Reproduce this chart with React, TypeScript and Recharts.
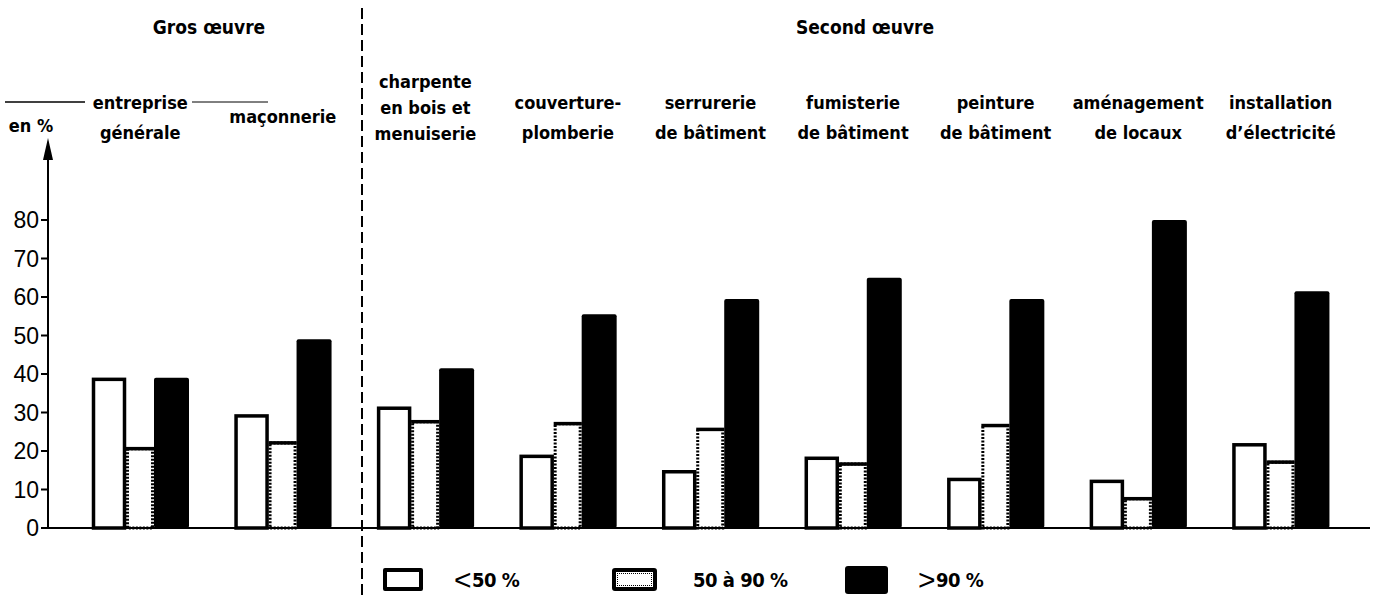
import { BarChart, Bar, XAxis, YAxis, Legend } from "recharts";

// Share of firms (%) per trade, by size class
const categories = [
  "entreprise\ngénérale",
  "maçonnerie",
  "charpente\nen bois et\nmenuiserie",
  "couverture-\nplomberie",
  "serrurerie\nde bâtiment",
  "fumisterie\nde bâtiment",
  "peinture\nde bâtiment",
  "aménagement\nde locaux",
  "installation\nd’électricité",
];
const below50 = [39, 29.5, 31.5, 19, 15, 18.5, 13, 12.5, 22];
const from50to90 = [21, 22.5, 28, 27.5, 26, 17, 27, 8, 17.5];
const above90 = [39, 49, 41.5, 55.5, 59.5, 65, 59.5, 80, 61.5];
const yTicks = [0, 10, 20, 30, 40, 50, 60, 70, 80];
const seriesNames = ["<50 %", "50 à 90 %", ">90 %"];

const data = categories.map((name, i) => ({
  name,
  below50: below50[i],
  from50to90: from50to90[i],
  above90: above90[i],
}));

const NARROW = "'Liberation Sans Narrow', 'DejaVu Sans Condensed', sans-serif";
const PLAIN = "'Liberation Sans', Arial, sans-serif";

// baselines for 1, 2 or 3 line labels (labels sit above the plot)
const LINE_BASES: Record<number, number[]> = {
  1: [123],
  2: [109, 139],
  3: [88, 114, 140],
};

function CategoryTick(props: any) {
  const { x, payload } = props;
  const lines = String(payload.value).split("\n");
  const bases = LINE_BASES[lines.length];
  return (
    <text textAnchor="middle" fontFamily={NARROW} fontWeight={700} fontSize={18} fill="#000">
      {lines.map((l, i) => (
        <tspan key={i} x={x} y={bases[i]}>
          {l}
        </tspan>
      ))}
    </text>
  );
}

const OutlineBar = (props: any) => {
  const { x, y, width, height } = props;
  if (!height) return null;
  return (
    <rect x={x + 1.5} y={y + 1.5} width={width - 3} height={height - 1.5} fill="#fff" stroke="#000" strokeWidth={3.5} />
  );
};

const DottedBar = (props: any) => {
  const { x, y, width, height } = props;
  if (!height) return null;
  return (
    <g>
      <rect x={x + 1.5} y={y + 1.5} width={width - 3} height={height - 1.5} fill="#fff" stroke="#000" strokeWidth={3} strokeDasharray="2 1.5" />
      <line x1={x} x2={x + width} y1={y + 1.5} y2={y + 1.5} stroke="#000" strokeWidth={3.5} />
    </g>
  );
};

const SolidBar = (props: any) => {
  const { x, y, width, height } = props;
  if (!height) return null;
  return <rect x={x} y={y} width={width} height={height} rx={2} fill="#000" />;
};

const swatchLeft = [383, 612, 845];
const textLeft = [454, 693, 918];

function LegendContent() {
  return (
    <div style={{ position: "relative", width: 1376, height: 33 }}>
      {seriesNames.map((name, i) => {
        const swatch =
          i === 0 ? (
            <div style={{ position: "absolute", left: swatchLeft[i], top: 6, width: 40, height: 23, boxSizing: "border-box", border: "4px solid #000", borderRadius: 2 }} />
          ) : i === 1 ? (
            <div style={{ position: "absolute", left: swatchLeft[i], top: 6, width: 45, height: 23, boxSizing: "border-box", border: "4px solid #000", borderRadius: 3, background: "#fff" }}>
              <div style={{ position: "absolute", inset: 1, border: "1.5px dotted #000" }} />
            </div>
          ) : (
            <div style={{ position: "absolute", left: swatchLeft[i], top: 4, width: 43, height: 28, background: "#000", borderRadius: 3 }} />
          );
        const sym = name.startsWith("<") || name.startsWith(">") ? name[0] : "";
        const rest = sym ? name.slice(1) : name;
        return (
          <div key={name}>
            {swatch}
            <div style={{ position: "absolute", left: textLeft[i], top: 3, whiteSpace: "nowrap", fontFamily: NARROW, fontWeight: 700, fontSize: 20, lineHeight: "30px", color: "#000", letterSpacing: -0.5 }}>
              {sym && (
                <span style={{ fontFamily: PLAIN, fontWeight: 300, fontSize: 30, lineHeight: "20px", marginRight: 1, position: "relative", top: 3 }}>
                  {sym}
                </span>
              )}
              {rest}
            </div>
          </div>
        );
      })}
    </div>
  );
}

export default function App() {
  return (
    <div style={{ position: "absolute", left: 0, top: 0, width: 1376, height: 599, background: "#fff" }}>
      <BarChart
        width={1376}
        height={599}
        data={data}
        barGap={0}
        margin={{ top: 143, right: 6, bottom: 41, left: 8 }}
      >
        <XAxis
          dataKey="name"
          height={30}
          interval={0}
          tick={<CategoryTick />}
          tickLine={false}
          axisLine={{ stroke: "#000", strokeWidth: 2 }}
          padding={{ left: 21, right: 18 }}
        />
        <YAxis
          width={40}
          domain={[0, 100]}
          ticks={yTicks}
          interval={0}
          tickSize={7}
          tickMargin={2}
          axisLine={{ stroke: "#000", strokeWidth: 2 }}
          tickLine={{ stroke: "#000", strokeWidth: 2 }}
          tick={{ fill: "#000", fontSize: 23, fontFamily: PLAIN }}
        />
        <Legend
          layout="horizontal"
          verticalAlign="middle"
          align="center"
          wrapperStyle={{ left: 0, top: 562, width: 1376, height: 33 }}
          content={<LegendContent />}
        />
        <Bar dataKey="below50" name={seriesNames[0]} barSize={34} shape={<OutlineBar />} isAnimationActive={false} />
        <Bar dataKey="from50to90" name={seriesNames[1]} barSize={28} shape={<DottedBar />} isAnimationActive={false} />
        <Bar dataKey="above90" name={seriesNames[2]} barSize={35} shape={<SolidBar />} isAnimationActive={false} />
      </BarChart>

      {/* decorations: titles, divider, axis arrow */}
      <svg width={1376} height={599} style={{ position: "absolute", left: 0, top: 0, pointerEvents: "none" }}>
        <text x={209} y={34} textAnchor="middle" fontFamily={NARROW} fontWeight={700} fontSize={19}>
          Gros œuvre
        </text>
        <text x={865} y={34} textAnchor="middle" fontFamily={NARROW} fontWeight={700} fontSize={19}>
          Second œuvre
        </text>
        <line x1={362} x2={362} y1={8} y2={599} stroke="#000" strokeWidth={2} strokeDasharray="11 5" />
        <polygon points="48,138 43,160 53,160" fill="#000" />
        <line x1={5} x2={85} y1={102} y2={102} stroke="#000" strokeWidth={1.5} />
        <line x1={192} x2={268} y1={102} y2={102} stroke="#000" strokeWidth={1} />
        <text x={31} y={132} textAnchor="middle" fontFamily={NARROW} fontWeight={700} fontSize={18}>
          en %
        </text>
      </svg>
    </div>
  );
}
